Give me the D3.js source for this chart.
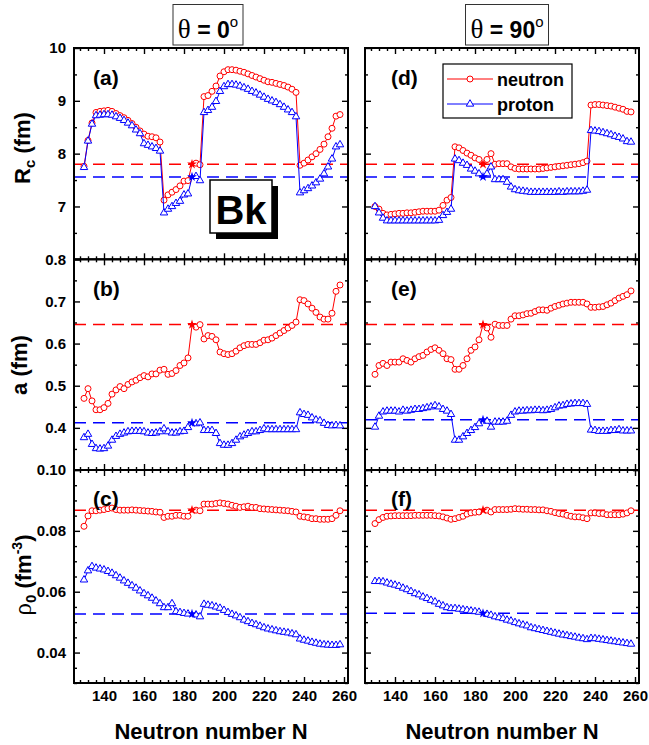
<!DOCTYPE html>
<html><head><meta charset="utf-8">
<script src="https://cdn.jsdelivr.net/npm/d3@7/dist/d3.min.js"></script>
<style>body{margin:0;background:#fff}</style>
</head><body>
<svg id="chart" width="649" height="745"></svg>
<script>
// ---------------- DATA ----------------
const N = d3.range(130, 259, 2); // neutron numbers 130..258

// theta = 0 deg
const rc0_n = [7.76,8.25,8.58,8.78,8.80,8.81,8.82,8.80,8.76,8.72,8.68,8.63,8.57,8.50,8.43,8.37,8.33,8.32,8.30,8.22,
  7.12,7.22,7.27,7.32,7.39,7.48,7.49,7.80,7.82,7.79,9.08,9.10,9.18,9.28,9.47,9.55,9.59,9.59,9.58,9.56,
  9.54,9.51,9.48,9.45,9.42,9.39,9.36,9.35,9.33,9.31,9.29,9.26,9.22,9.16,7.78,7.82,7.88,7.94,8.00,8.08,
  8.18,8.32,8.48,8.71,8.74];
const rc0_p = [7.74,8.24,8.56,8.72,8.73,8.74,8.74,8.73,8.70,8.67,8.63,8.58,8.53,8.45,8.38,8.19,8.16,8.13,8.10,8.05,
  6.88,6.95,7.00,7.06,7.10,7.22,7.24,7.55,7.57,7.49,8.78,8.82,8.88,8.99,9.18,9.27,9.31,9.31,9.30,9.28,
  9.25,9.22,9.18,9.15,9.11,9.07,9.03,9.00,8.97,8.93,8.88,8.83,8.78,8.70,7.26,7.30,7.34,7.39,7.45,7.52,
  7.62,7.75,7.90,8.13,8.17];
const a0_n = [0.470,0.493,0.464,0.443,0.443,0.448,0.458,0.480,0.490,0.498,0.493,0.503,0.509,0.513,0.519,0.524,0.521,0.528,0.528,0.537,
  0.539,0.527,0.529,0.536,0.548,0.554,0.566,0.643,0.639,0.645,0.611,0.619,0.617,0.609,0.580,0.576,0.574,0.576,0.582,0.590,
  0.595,0.598,0.598,0.598,0.602,0.608,0.609,0.613,0.619,0.625,0.631,0.637,0.643,0.651,0.704,0.702,0.694,0.684,0.674,0.663,
  0.658,0.658,0.672,0.724,0.739];
const a0_p = [0.377,0.385,0.361,0.351,0.350,0.351,0.357,0.371,0.380,0.385,0.388,0.391,0.392,0.392,0.392,0.391,0.388,0.387,0.388,0.391,
  0.398,0.391,0.388,0.388,0.391,0.392,0.401,0.412,0.410,0.412,0.394,0.394,0.394,0.387,0.363,0.359,0.359,0.363,0.371,0.379,
  0.383,0.387,0.391,0.391,0.394,0.398,0.396,0.396,0.396,0.396,0.396,0.396,0.396,0.396,0.436,0.432,0.430,0.424,0.419,0.417,
  0.411,0.406,0.405,0.406,0.405];
const rho0_n = [0.0815,0.0849,0.0866,0.0866,0.0868,0.0870,0.0873,0.0875,0.0870,0.0868,0.0868,0.0868,0.0869,0.0868,0.0867,0.0866,0.0865,0.0864,0.0862,0.0861,
  0.0844,0.0848,0.0848,0.0851,0.0851,0.0848,0.0848,0.0870,0.0868,0.0866,0.0888,0.0888,0.0888,0.0890,0.0892,0.0890,0.0888,0.0884,0.0881,0.0877,
  0.0879,0.0881,0.0877,0.0877,0.0873,0.0872,0.0871,0.0870,0.0869,0.0868,0.0867,0.0866,0.0864,0.0862,0.0848,0.0846,0.0844,0.0840,0.0840,0.0838,
  0.0838,0.0838,0.0840,0.0851,0.0866];
const rho0_p = [0.0639,0.0669,0.0683,0.0678,0.0675,0.0672,0.0667,0.0661,0.0653,0.0645,0.0636,0.0628,0.0620,0.0612,0.0603,0.0594,0.0587,0.0579,0.0570,0.0561,
  0.0548,0.0548,0.0561,0.0535,0.0532,0.0529,0.0527,0.0528,0.0524,0.0518,0.0559,0.0556,0.0554,0.0550,0.0546,0.0539,0.0532,0.0526,0.0521,0.0515,
  0.0507,0.0502,0.0496,0.0492,0.0487,0.0482,0.0478,0.0475,0.0472,0.0469,0.0467,0.0465,0.0462,0.0459,0.0445,0.0441,0.0438,0.0434,0.0431,0.0428,
  0.0426,0.0425,0.0424,0.0424,0.0426];

// theta = 90 deg
const rc90_n = [7.00,6.95,6.87,6.84,6.85,6.86,6.87,6.87,6.88,6.88,6.89,6.90,6.91,6.91,6.91,6.91,6.93,7.02,7.12,7.17,
  8.13,8.11,8.06,8.01,7.97,7.92,7.89,7.80,7.89,8.00,7.80,7.81,7.81,7.81,7.75,7.72,7.71,7.71,7.71,7.71,
  7.71,7.71,7.72,7.73,7.74,7.75,7.76,7.77,7.78,7.79,7.80,7.81,7.83,7.86,8.92,8.93,8.93,8.92,8.91,8.90,
  8.88,8.86,8.84,8.80,8.79];
const rc90_p = [7.00,6.88,6.78,6.73,6.73,6.73,6.73,6.73,6.73,6.73,6.73,6.73,6.73,6.73,6.73,6.73,6.74,6.83,6.89,6.95,
  7.90,7.87,7.82,7.78,7.71,7.67,7.62,7.56,7.62,7.75,7.51,7.51,7.51,7.46,7.37,7.32,7.30,7.29,7.28,7.27,
  7.27,7.27,7.27,7.27,7.27,7.27,7.28,7.27,7.28,7.28,7.28,7.28,7.29,7.31,8.44,8.43,8.42,8.40,8.38,8.36,
  8.33,8.31,8.28,8.23,8.22];
const a90_n = [0.527,0.548,0.553,0.548,0.556,0.556,0.556,0.564,0.560,0.556,0.564,0.569,0.572,0.580,0.586,0.590,0.584,0.576,0.564,0.562,
  0.539,0.539,0.548,0.564,0.584,0.592,0.609,0.645,0.637,0.615,0.646,0.643,0.643,0.643,0.658,0.666,0.666,0.668,0.671,0.672,
  0.676,0.680,0.680,0.679,0.684,0.688,0.691,0.694,0.696,0.698,0.698,0.698,0.698,0.694,0.686,0.686,0.687,0.688,0.692,0.696,
  0.702,0.708,0.712,0.716,0.725];
const a90_p = [0.402,0.428,0.438,0.440,0.440,0.440,0.438,0.442,0.440,0.442,0.444,0.444,0.446,0.448,0.450,0.453,0.450,0.444,0.440,0.432,
  0.371,0.371,0.379,0.387,0.394,0.401,0.410,0.420,0.416,0.402,0.414,0.414,0.414,0.416,0.430,0.438,0.440,0.440,0.441,0.441,
  0.442,0.442,0.441,0.442,0.444,0.448,0.452,0.453,0.456,0.457,0.458,0.458,0.458,0.456,0.395,0.394,0.392,0.392,0.392,0.394,
  0.394,0.396,0.393,0.393,0.393];
const rho90_n = [0.0824,0.0837,0.0844,0.0848,0.0849,0.0850,0.0850,0.0850,0.0850,0.0850,0.0851,0.0851,0.0851,0.0851,0.0851,0.0850,0.0849,0.0846,0.0842,0.0838,
  0.0840,0.0844,0.0848,0.0855,0.0859,0.0861,0.0862,0.0870,0.0868,0.0862,0.0870,0.0870,0.0870,0.0870,0.0871,0.0873,0.0872,0.0871,0.0871,0.0870,
  0.0870,0.0869,0.0869,0.0866,0.0864,0.0860,0.0857,0.0855,0.0851,0.0848,0.0846,0.0846,0.0843,0.0840,0.0859,0.0859,0.0857,0.0857,0.0853,0.0853,
  0.0853,0.0853,0.0855,0.0859,0.0866];
const rho90_p = [0.0634,0.0634,0.0633,0.0629,0.0625,0.0622,0.0618,0.0612,0.0607,0.0601,0.0594,0.0590,0.0583,0.0578,0.0572,0.0567,0.0559,0.0554,0.0548,0.0545,
  0.0545,0.0543,0.0541,0.0539,0.0537,0.0535,0.0533,0.0532,0.0526,0.0523,0.0518,0.0515,0.0512,0.0507,0.0504,0.0499,0.0495,0.0491,0.0488,0.0482,
  0.0479,0.0476,0.0473,0.0470,0.0467,0.0464,0.0461,0.0458,0.0456,0.0453,0.0451,0.0448,0.0446,0.0443,0.0447,0.0446,0.0444,0.0442,0.0440,0.0438,
  0.0436,0.0434,0.0432,0.0430,0.0428];

// reference nucleus (N = 184): [neutron, proton]
const refN = 184;
const refRc0 = [7.80, 7.56], refRc90 = [7.80, 7.56];
const refA0 = [0.645, 0.412], refA90 = [0.645, 0.419];
const refRho0 = [0.0868, 0.0527], refRho90 = [0.0868, 0.0529];

// ticks / labels
const xTickLabels = [140, 160, 180, 200, 220, 240, 260];
const rcTickLabels = [7, 8, 9, 10];
const aTickLabels = [0.4, 0.5, 0.6, 0.7, 0.8];
const rhoTickLabels = [0.04, 0.06, 0.08, 0.10];
const colTitles = ["0", "90"];
const panelLabels = [["(a)", "(b)", "(c)"], ["(d)", "(e)", "(f)"]];
const seriesNames = ["neutron", "proton"];
const element = "Bk";
const xTitle = "Neutron number N";

// ---------------- LAYOUT ----------------
const SANS = '"Liberation Sans", Arial, Helvetica, sans-serif';
const SERIF = '"Liberation Serif", "Times New Roman", serif';
const RED = "#ff0000", BLUE = "#0000ff";
const svg = d3.select("#chart");
svg.append("rect").attr("width", 649).attr("height", 745).attr("fill", "#fff");

const cols = [
  { x0: 74, x1: 348, labX: 93, series: { rc: [rc0_n, rc0_p], a: [a0_n, a0_p], rho: [rho0_n, rho0_p] },
    refs: { rc: refRc0, a: refA0, rho: refRho0 } },
  { x0: 365, x1: 639, labX: 391, series: { rc: [rc90_n, rc90_p], a: [a90_n, a90_p], rho: [rho90_n, rho90_p] },
    refs: { rc: refRc90, a: refA90, rho: refRho90 } }
];
const rows = [
  { key: "rc", top: 48, bottom: 259.3, dom: [6, 10], major: [6, 7, 8, 9, 10], minorStep: 0.5,
    labels: rcTickLabels, fmt: d3.format("d"), labY: 85 },
  { key: "a", top: 259.3, bottom: 470, dom: [0.3, 0.8], major: [0.3, 0.4, 0.5, 0.6, 0.7, 0.8], minorStep: 0.05,
    labels: aTickLabels, fmt: d3.format(".1f"), labY: 296 },
  { key: "rho", top: 470, bottom: 683, dom: [0.03, 0.10], major: [0.04, 0.06, 0.08, 0.10], minorStep: 0.005,
    labels: rhoTickLabels, fmt: d3.format(".2f"), labY: 506 }
];

const xMajor = xTickLabels;
const xMinor = d3.range(128, 262, 4).filter(v => v % 20 !== 0);

function styleAxis(g) {
  g.select(".domain").remove();
  g.selectAll(".tick line").attr("stroke", "#000").attr("stroke-width", 1.4);
  g.selectAll(".tick text").attr("font-family", SANS).attr("font-weight", "bold")
    .attr("font-size", 15).attr("fill", "#000");
}

cols.forEach((col, ci) => {
  const x = d3.scaleLinear().domain([125, 262]).range([col.x0, col.x1]);
  rows.forEach((row, ri) => {
    const y = d3.scaleLinear().domain(row.dom).range([row.bottom, row.top]);
    const g = svg.append("g");
    const yMinor = d3.range(row.dom[0], row.dom[1] + 1e-9, row.minorStep)
      .map(v => +v.toFixed(4))
      .filter(v => !row.major.some(m => Math.abs(m - v) < 1e-6));

    // axes: bottom / top
    const isBottom = ri === rows.length - 1;
    g.append("g").attr("transform", `translate(0,${row.bottom})`)
      .call(d3.axisBottom(x).tickValues(xMajor).tickSize(-6).tickPadding(7)
        .tickFormat(d => isBottom ? d : "")).call(styleAxis);
    g.append("g").attr("transform", `translate(0,${row.bottom})`)
      .call(d3.axisBottom(x).tickValues(xMinor).tickSize(-3).tickFormat("")).call(styleAxis);
    g.append("g").attr("transform", `translate(0,${row.top})`)
      .call(d3.axisTop(x).tickValues(xMajor).tickSize(-6).tickFormat("")).call(styleAxis);
    g.append("g").attr("transform", `translate(0,${row.top})`)
      .call(d3.axisTop(x).tickValues(xMinor).tickSize(-3).tickFormat("")).call(styleAxis);
    // left / right
    g.append("g").attr("transform", `translate(${col.x0},0)`)
      .call(d3.axisLeft(y).tickValues(row.major).tickSize(-6).tickPadding(8)
        .tickFormat(d => (ci === 0 && row.labels.some(l => Math.abs(l - d) < 1e-9)) ? row.fmt(d) : ""))
      .call(styleAxis);
    g.append("g").attr("transform", `translate(${col.x0},0)`)
      .call(d3.axisLeft(y).tickValues(yMinor).tickSize(-3).tickFormat("")).call(styleAxis);
    g.append("g").attr("transform", `translate(${col.x1},0)`)
      .call(d3.axisRight(y).tickValues(row.major).tickSize(-6).tickFormat("")).call(styleAxis);
    g.append("g").attr("transform", `translate(${col.x1},0)`)
      .call(d3.axisRight(y).tickValues(yMinor).tickSize(-3).tickFormat("")).call(styleAxis);

    // reference dashed lines
    const refs = col.refs[row.key];
    [RED, BLUE].forEach((c, si) => {
      g.append("line").attr("x1", col.x0).attr("x2", col.x1)
        .attr("y1", y(refs[si])).attr("y2", y(refs[si]))
        .attr("stroke", c).attr("stroke-width", 1.5).attr("stroke-dasharray", "12,7");
    });

    // series
    const ser = col.series[row.key];
    ser.forEach((arr, si) => {
      const c = si === 0 ? RED : BLUE;
      const pts = N.map((n, i) => [n, arr[i]]);
      g.append("path").datum(pts)
        .attr("d", d3.line().x(d => x(d[0])).y(d => y(d[1])))
        .attr("fill", "none").attr("stroke", c).attr("stroke-width", 1);
      const mk = g.append("g");
      if (si === 0) {
        mk.selectAll("circle").data(pts.filter(d => d[0] !== refN)).join("circle")
          .attr("cx", d => x(d[0])).attr("cy", d => y(d[1])).attr("r", 3)
          .attr("fill", "#fff").attr("stroke", c).attr("stroke-width", 1);
      } else {
        mk.selectAll("path").data(pts.filter(d => d[0] !== refN)).join("path")
          .attr("d", d3.symbol(d3.symbolTriangle, 24))
          .attr("transform", d => `translate(${x(d[0])},${y(d[1])})`)
          .attr("fill", "#fff").attr("stroke", c).attr("stroke-width", 1);
      }
    });
    // reference star markers
    [RED, BLUE].forEach((c, si) => {
      g.append("path").attr("d", d3.symbol(d3.symbolStar, 30))
        .attr("transform", `translate(${x(refN)},${y(refs[si])})`).attr("fill", c);
    });

    // frame
    g.append("rect").attr("x", col.x0).attr("y", row.top)
      .attr("width", col.x1 - col.x0).attr("height", row.bottom - row.top)
      .attr("fill", "none").attr("stroke", "#000").attr("stroke-width", 2);

    // panel label
    g.append("text").attr("x", col.labX).attr("y", row.labY)
      .attr("font-family", SANS).attr("font-weight", "bold").attr("font-size", 21)
      .text(panelLabels[ci][ri]);
  });

  // column title box
  const cx = (col.x0 + col.x1) / 2 + (ci === 0 ? -3 : 5);
  const bw = ci === 0 ? 70 : 83;
  svg.append("rect").attr("x", cx - bw / 2).attr("y", 4.5).attr("width", bw).attr("height", 40.5)
    .attr("fill", "#fff").attr("stroke", "#333").attr("stroke-width", 1);
  const t = svg.append("text").attr("x", cx).attr("y", 38).attr("text-anchor", "middle")
    .attr("font-size", 23).attr("fill", "#000");
  t.append("tspan").attr("font-family", SERIF).attr("font-size", 27).text("\u03b8");
  t.append("tspan").attr("font-family", SANS).attr("font-weight", "bold").text(" = " + colTitles[ci]);
  t.append("tspan").attr("font-family", SANS).attr("font-size", 15).attr("dy", -11).text("o");

  // x title
  svg.append("text").attr("x", (col.x0 + col.x1) / 2).attr("y", 739).attr("text-anchor", "middle")
    .attr("font-family", SANS).attr("font-weight", "bold").attr("font-size", 22).text(xTitle);
});

// y titles
function yTitle(cx, cy) {
  return svg.append("text").attr("transform", `translate(${cx},${cy}) rotate(-90)`)
    .attr("text-anchor", "middle").attr("font-family", SANS).attr("font-weight", "bold")
    .attr("font-size", 22).attr("fill", "#000");
}
const t1 = yTitle(30, 148);
t1.append("tspan").text("R");
t1.append("tspan").attr("font-size", 15).attr("dy", 5).text("c");
t1.append("tspan").attr("dy", -5).text(" (fm)");
const t2 = yTitle(27, 365);
t2.append("tspan").text("a (fm)");
const t3 = yTitle(31, 575);
t3.append("tspan").attr("font-family", SERIF).attr("font-weight", "normal").attr("font-size", 25).text("\u03c1");
t3.append("tspan").attr("font-size", 15).attr("dy", 5).text("0");
t3.append("tspan").attr("dy", -5).text(" (fm");
t3.append("tspan").attr("font-size", 14).attr("dy", -9).text("-3");
t3.append("tspan").attr("dy", 9).text(")");

// Bk box
svg.append("rect").attr("x", 216).attr("y", 186).attr("width", 62).attr("height", 53).attr("fill", "#000");
svg.append("rect").attr("x", 210).attr("y", 180).attr("width", 62).attr("height", 53)
  .attr("fill", "#fff").attr("stroke", "#000").attr("stroke-width", 1.5);
svg.append("text").attr("x", 241).attr("y", 224).attr("text-anchor", "middle")
  .attr("font-family", SANS).attr("font-weight", "bold").attr("font-size", 40).text(element);

// legend (panel d)
const lg = svg.append("g");
lg.append("rect").attr("x", 443).attr("y", 64).attr("width", 129).attr("height", 54)
  .attr("fill", "#fff").attr("stroke", "#000").attr("stroke-width", 1.2);
seriesNames.forEach((name, i) => {
  const yy = 79 + i * 25, c = i === 0 ? RED : BLUE;
  lg.append("line").attr("x1", 447).attr("x2", 493).attr("y1", yy).attr("y2", yy)
    .attr("stroke", c).attr("stroke-width", 1);
  if (i === 0) lg.append("circle").attr("cx", 470).attr("cy", yy).attr("r", 3)
    .attr("fill", "#fff").attr("stroke", c);
  else lg.append("path").attr("d", d3.symbol(d3.symbolTriangle, 24))
    .attr("transform", `translate(470,${yy})`).attr("fill", "#fff").attr("stroke", c);
  lg.append("text").attr("x", 497).attr("y", yy + 6.5)
    .attr("font-family", SANS).attr("font-weight", "bold").attr("font-size", 18).text(name);
});
</script>
</body></html>
